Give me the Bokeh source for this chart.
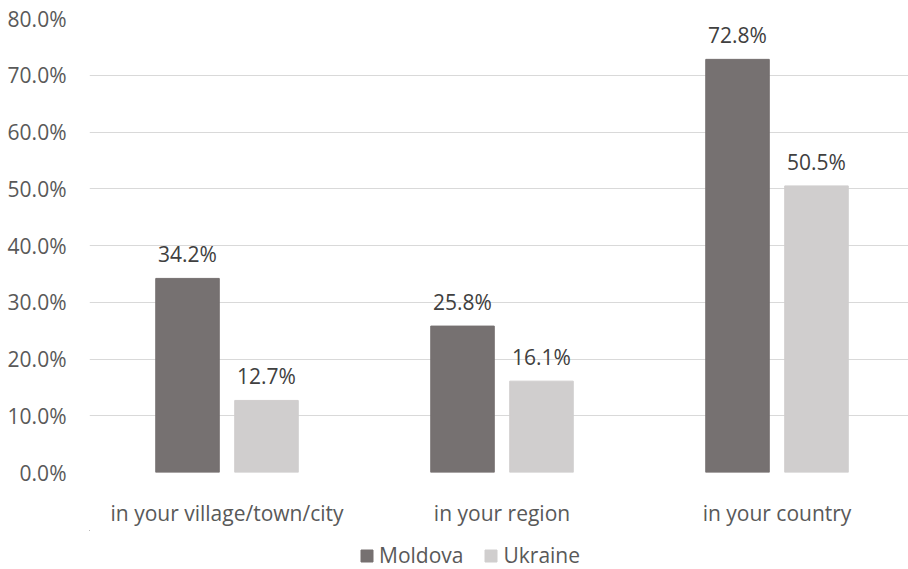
import numpy as np
from bokeh.plotting import figure
from bokeh.layouts import column
from bokeh.models import (ColumnDataSource, Range1d, Legend, LegendItem, FixedTicker,
                          CustomJSTickFormatter)
from bokeh.core.properties import value
from bokeh.embed import file_html
from bokeh.resources import INLINE

categories = ["in your village/town/city", "in your region", "in your country"]
moldova = [34.2, 25.8, 72.8]
ukraine = [12.7, 16.1, 50.5]
series_names = ["Moldova", "Ukraine"]
y_ticks = [0, 10, 20, 30, 40, 50, 60, 70, 80]

FONT = "Open Sans"
TXT = "#595959"
FS = "21px"
C_MD = "#767171"
C_UA = "#D0CECE"
OFF = 0.1436
BW = 0.231

pos = np.arange(len(categories)) + 0.5
src = ColumnDataSource(dict(
    xm=pos - OFF,
    xu=pos + OFF,
    moldova=moldova,
    ukraine=ukraine,
    mlab=[f"{v:.1f}%" for v in moldova],
    ulab=[f"{v:.1f}%" for v in ukraine],
))

p = figure(x_range=Range1d(0, 819 / 275), y_range=Range1d(0, 80),
           width=908, height=530, output_backend="svg", toolbar_location=None,
           min_border_left=89, min_border_right=0, min_border_top=18, min_border_bottom=58)
p.outline_line_color = None
p.background_fill_color = "white"
p.border_fill_color = "white"

p.vbar(x="xm", top="moldova", width=BW, source=src, color=C_MD)
p.vbar(x="xu", top="ukraine", width=BW, source=src, color=C_UA)

for xcol, col, top in (("xm", "mlab", "moldova"), ("xu", "ulab", "ukraine")):
    p.text(x=xcol, y=top, text=col, source=src,
           text_font=value(FONT), text_font_size=FS, text_color="#404040",
           text_align="center", text_baseline="middle", y_offset=-24)

p.xgrid.grid_line_color = None
p.ygrid.grid_line_color = "#D9D9D9"
p.ygrid.grid_line_width = 1

p.yaxis.ticker = FixedTicker(ticks=y_ticks)
p.yaxis.formatter = CustomJSTickFormatter(code="return tick.toFixed(1) + '%'")
p.xaxis.ticker = FixedTicker(ticks=list(pos))
p.xaxis.formatter = CustomJSTickFormatter(args=dict(cats=categories),
                                          code="return cats[Math.floor(tick)]")
for ax in (p.xaxis, p.yaxis):
    ax.axis_line_color = None
    ax.major_tick_line_color = None
    ax.minor_tick_line_color = None
    ax.major_label_text_font = FONT
    ax.major_label_text_font_size = FS
    ax.major_label_text_color = TXT
p.yaxis.major_label_standoff = 17
p.xaxis.major_label_standoff = 20

# legend strip below the chart (its bars fall outside its ranges; only the legend shows)
lf = figure(width=908, height=39, x_range=Range1d(10, 11), y_range=Range1d(-2, -1),
            output_backend="svg", toolbar_location=None,
            x_axis_location=None, y_axis_location=None,
            min_border=0, min_border_left=0, min_border_right=0,
            min_border_top=0, min_border_bottom=0)
lf.grid.visible = False
lf.outline_line_color = None
lf.background_fill_color = "white"
lf.border_fill_color = "white"
lr1 = lf.vbar(x="xm", top="moldova", width=BW, source=src, color=C_MD)
lr2 = lf.vbar(x="xu", top="ukraine", width=BW, source=src, color=C_UA)
legend = Legend(items=[LegendItem(label=series_names[0], renderers=[lr1], index=0),
                       LegendItem(label=series_names[1], renderers=[lr2], index=0)],
                orientation="horizontal", location=(270, 0),
                label_text_font=FONT, label_text_font_size=FS, label_text_color=TXT,
                glyph_width=15, glyph_height=15, label_standoff=5, spacing=20,
                label_height=22, border_line_color=None, background_fill_alpha=0,
                padding=0, margin=0)
lf.add_layout(legend, "center")

layout = column(p, lf, spacing=0)
open("out.html", "w").write(file_html(layout, INLINE))
